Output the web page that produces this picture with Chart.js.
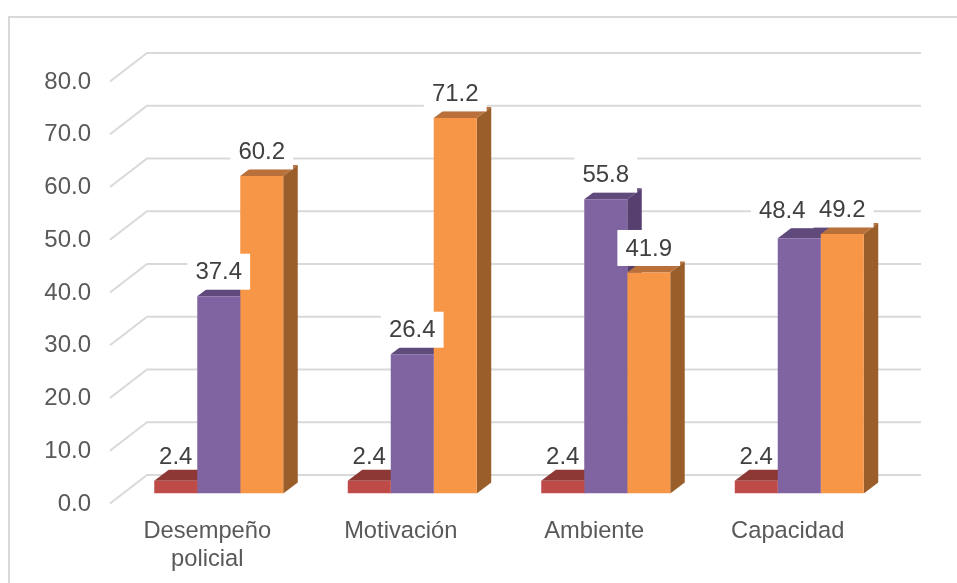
<!DOCTYPE html>
<html lang="es">
<head>
    <meta charset="UTF-8">
    <title>Desempeño policial</title>
    <script src="https://cdn.jsdelivr.net/npm/chart.js"></script>
    <style>
        html, body { margin: 0; background: #fff; overflow: hidden; }
        #wrap { position: relative; width: 957px; height: 583px; }
        #frame {
            position: absolute; left: 8px; top: 16px; right: -5px; bottom: -5px;
            border: 2px solid #d9d9d9; box-sizing: border-box;
        }
        canvas { position: absolute; left: 0; top: 0; }
    </style>
</head>
<body>
<div id="wrap">
    <div id="frame"></div>
    <canvas id="chart" width="957" height="583"></canvas>
</div>
<script>
const categories = [['Desempeño', 'policial'], 'Motivación', 'Ambiente', 'Capacidad'];
const serieRoja = [2.4, 2.4, 2.4, 2.4];
const serieMorada = [37.4, 26.4, 55.8, 48.4];
const serieNaranja = [60.2, 71.2, 41.9, 49.2];

// colours: front, top, side
const rojo = ['#be4b48', '#8e3836', '#8e3836'];
const morado = ['#8064a2', '#604a7b', '#57406f'];
const naranja = ['#f79646', '#b9703a', '#9a5e2a'];

const depthX = 14.5, depthY = 11;       // bar depth
const wallX = 37, wallY = 28.5;         // depth of the back wall
const wallShift = -18.5;                // back wall relative to bar base line

const font = '24px "Liberation Sans", Arial, sans-serif';

function poly(ctx, pts, color) {
    ctx.fillStyle = color;
    ctx.beginPath();
    pts.forEach((p, i) => i ? ctx.lineTo(p[0], p[1]) : ctx.moveTo(p[0], p[1]));
    ctx.closePath();
    ctx.fill();
}

const bars3d = {
    id: 'bars3d',
    // wall grid lines, then top and side faces under all the front faces
    beforeDatasetsDraw(chart) {
        const { ctx, scales: { y } } = chart;
        ctx.save();
        ctx.strokeStyle = '#d9d9d9';
        ctx.lineWidth = 2;
        y.ticks.forEach(t => {
            const by = y.getPixelForValue(t.value) + wallShift;
            ctx.beginPath();
            ctx.moveTo(147 - wallX, by + wallY);
            ctx.lineTo(147, by);
            ctx.lineTo(921, by);
            ctx.stroke();
        });
        const base = y.getPixelForValue(0);
        chart.data.datasets.forEach((ds, i) => {
            chart.getDatasetMeta(i).data.forEach(b => {
                const l = b.x - b.width / 2, r = b.x + b.width / 2;
                poly(ctx, [[l, b.y], [l + depthX, b.y - depthY], [r + depthX, b.y - depthY], [r, b.y]], ds.faces[1]);
                poly(ctx, [[r, b.y], [r + depthX, b.y - depthY], [r + depthX, base - depthY], [r, base]], ds.faces[2]);
            });
        });
        ctx.restore();
    },
    // value labels, white boxes behind the tall series only
    afterDatasetsDraw(chart) {
        const { ctx } = chart;
        ctx.save();
        ctx.font = font;
        ctx.textAlign = 'center';
        ctx.textBaseline = 'middle';
        chart.data.datasets.forEach((ds, i) => {
            chart.getDatasetMeta(i).data.forEach((b, j) => {
                const txt = ds.data[j].toFixed(1);
                const moved = i === 1 && j === 3;   // this label was dragged aside in the original
                const cx = moved ? b.x - 17 : b.x;
                const cy = moved ? b.y - 28 : b.y - 24.5;
                if (i > 0) {
                    const w = ctx.measureText(txt).width + 16;
                    ctx.fillStyle = '#fff';
                    ctx.fillRect(cx - w / 2, cy - 18, w, 36);
                }
                ctx.fillStyle = '#404040';
                ctx.fillText(txt, cx, cy + 1);
            });
        });
        ctx.restore();
    }
};

new Chart(document.getElementById('chart'), {
    type: 'bar',
    data: {
        labels: categories,
        datasets: [
            { label: 'Serie 1', data: serieRoja, backgroundColor: rojo[0], faces: rojo },
            { label: 'Serie 2', data: serieMorada, backgroundColor: morado[0], faces: morado },
            { label: 'Serie 3', data: serieNaranja, backgroundColor: naranja[0], faces: naranja }
        ]
    },
    options: {
        responsive: false,
        animation: false,
        datasets: { bar: { categoryPercentage: 0.6666, barPercentage: 1 } },
        layout: { padding: { left: 0, right: 61, top: 71.5, bottom: 0 } },
        plugins: { legend: { display: false }, tooltip: { enabled: false } },
        scales: {
            x: {
                grid: { display: false, drawTicks: false },
                border: { display: false },
                afterFit(s) { s.height = 89.5; },
                ticks: {
                    color: '#595959',
                    font: { family: '"Liberation Sans", Arial, sans-serif', size: 23.7, lineHeight: 1.18 },
                    padding: 24,
                    labelOffset: -11.5,
                    maxRotation: 0,
                    autoSkip: false
                }
            },
            y: {
                min: 0,
                max: 80,
                grid: { display: false, drawTicks: false },
                border: { display: false },
                afterFit(s) { s.width = 122; },
                ticks: {
                    stepSize: 10,
                    color: '#595959',
                    font: { family: '"Liberation Sans", Arial, sans-serif', size: 24 },
                    padding: 31,
                    labelOffset: 10.5,
                    callback: v => v.toFixed(1)
                }
            }
        }
    },
    plugins: [bars3d]
});
</script>
</body>
</html>
